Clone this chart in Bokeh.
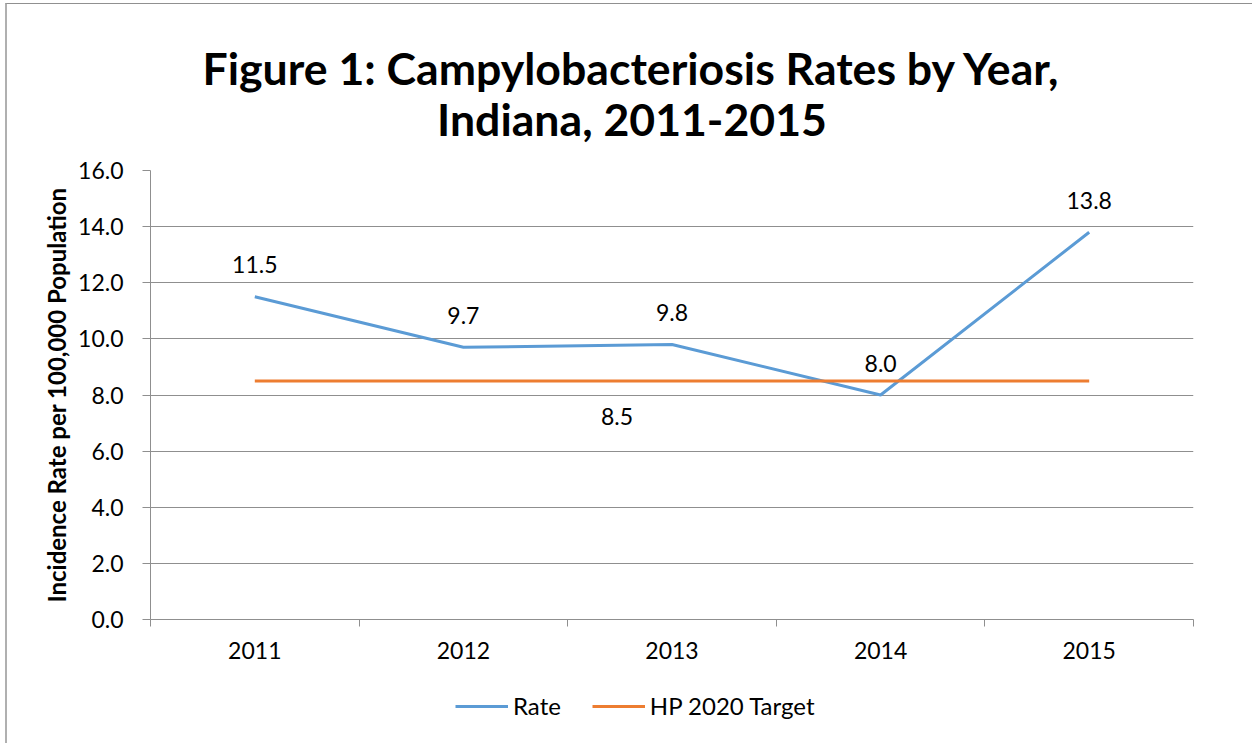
from bokeh.plotting import figure
from bokeh.layouts import column
from bokeh.models import (Range1d, FixedTicker, NumeralTickFormatter, Label,
                          Legend, LegendItem, ColumnDataSource)
from bokeh.core.properties import value
from bokeh.embed import file_html
from bokeh.resources import INLINE

years = ["2011", "2012", "2013", "2014", "2015"]
rate = [11.5, 9.7, 9.8, 8.0, 13.8]
target = [8.5, 8.5, 8.5, 8.5, 8.5]
target_label_index = 2
y_ticks = [0, 2, 4, 6, 8, 10, 12, 14, 16]
title_lines = ["Figure 1: Campylobacteriosis Rates by Year,", "Indiana, 2011-2015"]
series_names = ["Rate", "HP 2020 Target"]

FONT = "Lato"
BLUE = "#5B9BD5"
ORANGE = "#ED7D31"
GRID = "#8f8f8f"
FS = "23px"
LEFT, TOP = 7, 4          # where the chart box starts on the page
W = 1245
FRAME_L = 150             # frames of the stacked figures align to the main plot's frame


def blank(height):
    f = figure(width=W, height=height, output_backend="svg", toolbar_location=None,
               x_range=Range1d(0, 1), y_range=Range1d(0, 1),
               x_axis_type=None, y_axis_type=None, min_border=0)
    f.outline_line_color = None
    f.xgrid.visible = False
    f.ygrid.visible = False
    f.background_fill_color = "white"
    f.border_fill_color = "white"
    return f


# ---------- title strip ----------
T_H = 155 - TOP
tfig = blank(T_H)
for txt, base in zip(title_lines, [73, 124]):
    tfig.add_layout(Label(x=631.5 - FRAME_L, y=155 - base + 6,
                          x_units="screen", y_units="screen",
                          text=txt, text_align="center", text_baseline="alphabetic",
                          text_font=FONT, text_font_size="44.6px",
                          text_font_style="bold", text_color="black"))

# ---------- main plot ----------
xs = [i + 0.5 for i in range(len(years))]
M_H = 532
p = figure(width=W, height=M_H, output_backend="svg", toolbar_location=None,
           x_range=Range1d(0, len(years)), y_range=Range1d(0, 16),
           min_border_left=FRAME_L - LEFT, min_border_right=W - (1193 - LEFT),
           min_border_top=15, min_border_bottom=68)
p.outline_line_color = None
p.background_fill_color = "white"
p.border_fill_color = "white"

p.xaxis.ticker = FixedTicker(ticks=xs, minor_ticks=list(range(len(years) + 1)))
p.xaxis.major_label_overrides = {x: y for x, y in zip(xs, years)}
p.xaxis.major_tick_out = 0
p.xaxis.major_tick_in = 0
p.xaxis.minor_tick_out = 7
p.xaxis.minor_tick_in = 0
p.xaxis.minor_tick_line_color = GRID
p.xaxis.axis_line_color = GRID
p.xaxis.major_label_standoff = 15
p.xaxis.major_label_text_font = FONT
p.xaxis.major_label_text_font_size = FS
p.xaxis.major_label_text_color = "black"

p.yaxis.ticker = FixedTicker(ticks=y_ticks, minor_ticks=[])
p.yaxis.formatter = NumeralTickFormatter(format="0.0")
p.yaxis.major_tick_out = 8
p.yaxis.major_tick_in = 0
p.yaxis.major_tick_line_color = GRID
p.yaxis.axis_line_color = GRID
p.yaxis.major_label_standoff = 19
p.yaxis.major_label_text_font = FONT
p.yaxis.major_label_text_font_size = FS
p.yaxis.major_label_text_color = "black"
p.yaxis.axis_label = "Incidence Rate per 100,000 Population"
p.yaxis.axis_label_text_font = FONT
p.yaxis.axis_label_text_font_size = "24px"
p.yaxis.axis_label_text_font_style = "bold"
p.yaxis.axis_label_text_color = "black"
p.yaxis.axis_label_standoff = 4

p.xgrid.grid_line_color = None
p.ygrid.ticker = FixedTicker(ticks=y_ticks)
p.ygrid.grid_line_color = GRID
p.ygrid.grid_line_width = 1

src = ColumnDataSource(dict(x=xs, rate=rate, target=target,
                            rate_txt=[f"{v:.1f}" for v in rate]))
p.line("x", "rate", source=src, line_color=BLUE, line_width=3)
p.line("x", "target", source=src, line_color=ORANGE, line_width=3)

p.text("x", "rate", text="rate_txt", source=src, y_offset=-32,
       text_align="center", text_baseline="middle",
       text_font=value(FONT), text_font_size=FS, text_color="black")

tsrc = ColumnDataSource(dict(x=[xs[target_label_index]],
                             y=[target[target_label_index]],
                             t=[f"{target[target_label_index]:.1f}"]))
p.text("x", "y", text="t", source=tsrc, y_offset=36, x_offset=-55,
       text_align="center", text_baseline="middle",
       text_font=value(FONT), text_font_size=FS, text_color="black")

# ---------- legend strip ----------
L_H = 56
lfig = blank(L_H)
# single-point lines: nothing is drawn in the strip, they only supply legend glyphs
lr_rate = lfig.line(x=[0], y=[0], line_color=BLUE, line_width=3)
lr_target = lfig.line(x=[0], y=[0], line_color=ORANGE, line_width=3)
legend = Legend(items=[LegendItem(label=series_names[0], renderers=[lr_rate]),
                       LegendItem(label=series_names[1], renderers=[lr_target])],
                orientation="horizontal", location=(455 - FRAME_L, 23),
                label_text_font=FONT, label_text_font_size="24px",
                label_text_color="black", glyph_width=53, glyph_height=28,
                label_height=28, label_standoff=5, spacing=31, padding=0,
                margin=0, border_line_color=None, background_fill_alpha=0)
lfig.add_layout(legend, "center")

layout = column(tfig, p, lfig, spacing=0)
layout.styles = {"margin-left": f"{LEFT - 2}px", "margin-top": f"{TOP - 1}px",
                 "border-left": "2px solid #b0b0b0", "border-top": "1px solid #909090"}

open("out.html", "w").write(file_html(layout, INLINE))
